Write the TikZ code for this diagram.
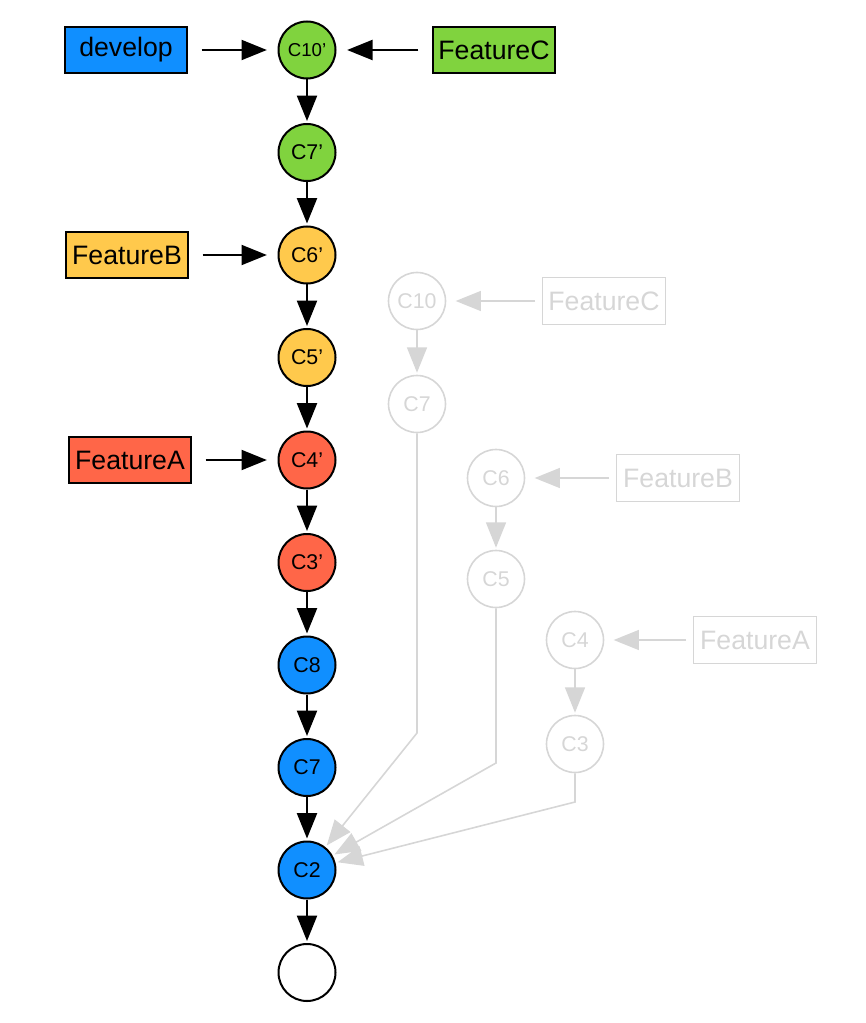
\documentclass[tikz,border=0pt]{standalone}
\usepackage{fontspec}
\setmainfont{Liberation Sans}
\usetikzlibrary{arrows.meta}
\definecolor{devblue}{RGB}{16,143,255}
\definecolor{featgreen}{RGB}{128,211,62}
\definecolor{featyellow}{RGB}{255,201,76}
\definecolor{featred}{RGB}{255,102,72}
\definecolor{oldgrey}{RGB}{214,214,214}
\tikzset{
	commit/.style={circle, draw, line width=1.5pt, minimum size=42.75pt, inner sep=0pt, font=\fontsize{16}{16}\selectfont},
	branch/.style={draw, line width=1.5pt, minimum width=92pt, minimum height=35pt, inner xsep=3pt, font=\fontsize{20}{20}\selectfont},
	ghost/.style={draw=oldgrey, text=oldgrey, line width=1.2pt},
	link/.style={line width=1.5pt, -{Triangle[length=19pt,width=15pt]}, shorten >=1.5pt},
	pointer/.style={link, shorten <=10pt, shorten >=8pt},
	oldlink/.style={link, draw=oldgrey, line width=1.2pt},
	oldpointer/.style={oldlink, shorten <=5pt, shorten >=7pt}
}
\newcommand{\chainto}[1]{
	\foreach \a/\b in {#1}
		\draw[link] (\a) -- (\b);
}

\begin{document}
\begin{tikzpicture}[x=0.75pt,y=-0.75pt]
	\useasboundingbox (0,0) rectangle (866,1023);
	%rebased commits on develop
	\node[commit, fill=featgreen, font=\fontsize{14}{14}\selectfont] (c10p) at (307,50) {C10'};
	\foreach \name/\lbl/\col/\y in {c7p/C7'/featgreen/152.5, c6p/C6'/featyellow/255, c5p/C5'/featyellow/357.5, c4p/C4'/featred/460, c3p/C3'/featred/562.5, c8/C8/devblue/665, c7/C7/devblue/767.5, c2/C2/devblue/870, base//white/972.5}
		\node[commit, fill=\col] (\name) at (307,\y) {\lbl};
	\chainto{c10p/c7p, c7p/c6p, c6p/c5p, c5p/c4p, c4p/c3p, c3p/c8, c8/c7, c7/c2, c2/base}

	%branch labels
	\node[branch, fill=devblue] (develop) at (126,50) {develop};
	\node[branch, fill=featgreen] (featc) at (494,50) {FeatureC};
	\node[branch, fill=featyellow] (featb) at (127,255) {FeatureB};
	\node[branch, fill=featred] (feata) at (130,460) {FeatureA};
	\draw[pointer] (develop) -- (c10p);
	\draw[pointer] (featc) -- (c10p);
	\draw[pointer] (featb) -- (c6p);
	\draw[pointer] (feata) -- (c4p);

	%old commits before the rebase (grey)
	\foreach \name/\lbl/\x/\y in {oc10/C10/417/301, oc7/C7/417/404, oc6/C6/496/478, oc5/C5/496/579, oc4/C4/575/640, oc3/C3/575/744}
		\node[commit, ghost] (\name) at (\x,\y) {\lbl};
	\node[branch, ghost] (ofeatc) at (604,301) {FeatureC};
	\node[branch, ghost] (ofeatb) at (678,478) {FeatureB};
	\node[branch, ghost] (ofeata) at (755,640) {FeatureA};
	\draw[oldpointer] (ofeatc) -- (oc10);
	\draw[oldpointer] (ofeatb) -- (oc6);
	\draw[oldpointer] (ofeata) -- (oc4);
	\draw[oldlink] (oc10) -- (oc7);
	\draw[oldlink] (oc6) -- (oc5);
	\draw[oldlink] (oc4) -- (oc3);

	%old parents all go back to C2
	\coordinate (bendc7) at (417,733);
	\coordinate (bendc5) at (496,763);
	\coordinate (bendc3) at (575,802);
	\draw[oldlink] (oc7) -- (bendc7) -- (c2);
	\draw[oldlink] (oc5) -- (bendc5) -- (c2);
	\draw[oldlink] (oc3) -- (bendc3) -- (c2);
\end{tikzpicture}
\end{document}
